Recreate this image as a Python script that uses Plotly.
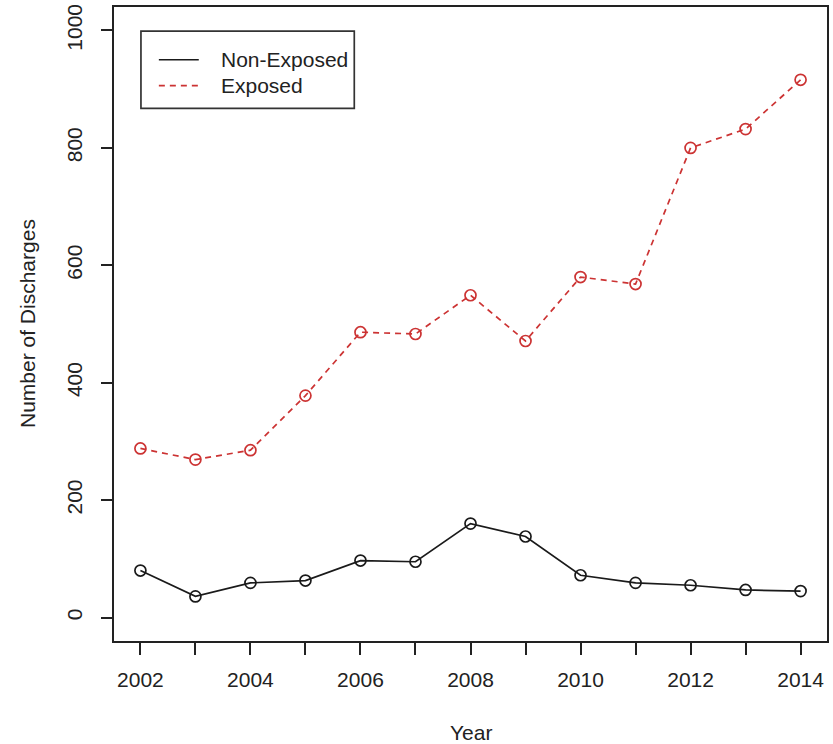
import plotly.graph_objects as go

# Annual discharge counts by exposure group
years = list(range(2002, 2015))
non_exposed = [80, 36, 59, 63, 97, 95, 160, 138, 72, 59, 55, 47, 45]
exposed = [288, 269, 285, 378, 486, 483, 549, 471, 580, 568, 800, 832, 916]

series_names = ["Non-Exposed", "Exposed"]
x_ticks = years
x_ticktext = [str(y) if y % 2 == 0 else "" for y in years]
y_ticks = [0, 200, 400, 600, 800, 1000]

BLACK = "#1a1a1a"
RED = "#cc3333"
TEXT = "#222222"
FONT = "Liberation Sans, Arial, sans-serif"
FS = 21
DASH = "6px,5px"

fig = go.Figure()

fig.add_trace(go.Scatter(
    x=years, y=non_exposed, mode="lines+markers", name=series_names[0], showlegend=False,
    line=dict(color=BLACK, width=1.7),
    marker=dict(symbol="circle-open", size=11, color=BLACK, line=dict(width=1.7)),
))
fig.add_trace(go.Scatter(
    x=years, y=exposed, mode="lines+markers", name=series_names[1], showlegend=False,
    line=dict(color=RED, width=1.7, dash=DASH),
    marker=dict(symbol="circle-open", size=11, color=RED, line=dict(width=1.7)),
))

# Boxed legend in the top-left corner (line style only, as in base R)
lg_x0, lg_x1, lg_y0, lg_y1 = 0.0378, 0.337, 0.840, 0.962
sample_x0, sample_x1, text_x = 0.0629, 0.1189, 0.1469
row_y = [0.9168, 0.876]
row_style = [dict(color=BLACK, width=1.7), dict(color=RED, width=1.7, dash=DASH)]

shapes = [dict(type="rect", xref="paper", yref="paper",
               x0=lg_x0, x1=lg_x1, y0=lg_y0, y1=lg_y1,
               line=dict(color="#333333", width=1.7), fillcolor="white", layer="below")]
annotations = []
for name, yy, style in zip(series_names, row_y, row_style):
    shapes.append(dict(type="line", xref="paper", yref="paper",
                       x0=sample_x0, x1=sample_x1, y0=yy, y1=yy, line=style))
    annotations.append(dict(text=name, xref="paper", yref="paper", x=text_x, y=yy,
                            xanchor="left", yanchor="middle", showarrow=False,
                            font=dict(size=FS, family=FONT, color=TEXT)))

annotations += [
    dict(text="Year", xref="paper", yref="paper", x=0.5, y=-0.145,
         xanchor="center", yanchor="middle", showarrow=False,
         font=dict(size=FS, family=FONT, color=TEXT)),
    dict(text="Number of Discharges", xref="paper", yref="paper", x=-0.122, y=0.5,
         xanchor="center", yanchor="middle", textangle=-90, showarrow=False,
         font=dict(size=FS, family=FONT, color=TEXT)),
]

fig.update_layout(
    width=833, height=744,
    margin=dict(l=114, r=4, t=4, b=103),
    paper_bgcolor="white", plot_bgcolor="white",
    font=dict(family=FONT, size=FS, color=TEXT),
    showlegend=False,
    xaxis=dict(
        range=[2001.52, 2014.48], tickmode="array", tickvals=x_ticks, ticktext=x_ticktext,
        ticks="outside", ticklen=12, tickwidth=1.6, tickcolor=TEXT,
        showline=True, linecolor=TEXT, linewidth=1.8, mirror=True,
        showgrid=False, zeroline=False, ticklabelstandoff=7,
        tickfont=dict(size=FS, family=FONT, color=TEXT),
    ),
    yaxis=dict(
        range=[-40, 1040], tickmode="array", tickvals=y_ticks,
        ticks="outside", ticklen=11, tickwidth=1.6, tickcolor=TEXT,
        showline=True, linecolor=TEXT, linewidth=1.8, mirror=True,
        showgrid=False, zeroline=False, tickangle=-90, ticklabelstandoff=11,
        tickfont=dict(size=FS, family=FONT, color=TEXT),
    ),
    shapes=shapes,
    annotations=annotations,
)

fig.write_html("out.html")
